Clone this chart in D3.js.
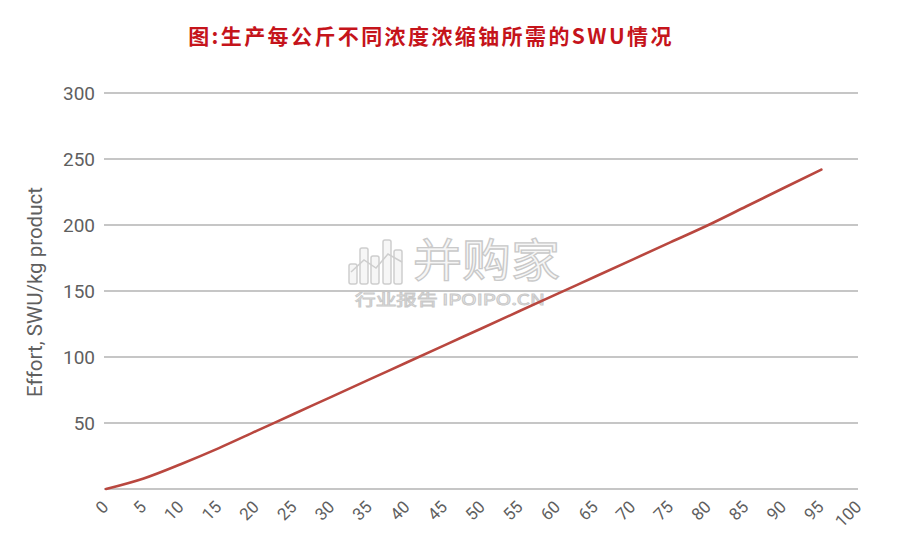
<!DOCTYPE html>
<html><head><meta charset="utf-8">
<script src="https://cdn.jsdelivr.net/npm/d3@7"></script>
<style>
html,body{margin:0;padding:0;background:#fff;}
svg{display:block;}
</style></head>
<body>
<svg id="chart" width="907" height="543"></svg>
<script>
// ---- data ----
const title = "图:生产每公斤不同浓度浓缩铀所需的SWU情况";
const yTitle = "Effort, SWU/kg product";
const enrichment = [0,5,10,15,20,25,30,35,40,45,50,55,60,65,70,75,80,85,90,95];
const swu = [0,8,19,31,44,57,70,83,96,109,122,135,148,161,174,187,200,214,228,242];
const xTicks = [0,5,10,15,20,25,30,35,40,45,50,55,60,65,70,75,80,85,90,95,100];
const yTicks = [50,100,150,200,250,300];

const svg = d3.select("#chart");
const plot = {left:104, right:858, top:93, bottom:489};

const x = d3.scaleLinear().domain([0,100]).range([106, 859]);
const y = d3.scaleLinear().domain([0,300]).range([plot.bottom, plot.top]);

// title
svg.append("text")
  .attr("x", 431).attr("y", 44)
  .attr("text-anchor","middle")
  .attr("font-family","'Noto Sans CJK SC', sans-serif")
  .attr("font-weight","bold")
  .attr("font-size",21)
  .attr("letter-spacing","2.4px")
  .attr("fill","#c5141b")
  .text(title);

// gridlines (including baseline 0)
const grid = svg.append("g");
grid.selectAll("line").data([0].concat(yTicks)).join("line")
  .attr("x1", plot.left).attr("x2", plot.right)
  .attr("y1", d=>y(d)).attr("y2", d=>y(d))
  .attr("stroke","#c6c6c6").attr("stroke-width",2);

// y axis labels
const yAxis = d3.axisLeft(y).tickValues(yTicks).tickSize(0).tickPadding(0);
const gy = svg.append("g").attr("transform","translate(95,0)").call(yAxis);
gy.select(".domain").remove();
gy.selectAll("text")
  .attr("font-family","Roboto, sans-serif").attr("font-size",19)
  .attr("fill","#5f5f5f").attr("dy","0.36em");

// x axis labels
const xAxis = d3.axisBottom(x).tickValues(xTicks).tickSize(0).tickPadding(0);
const gx = svg.append("g").attr("transform","translate(3,508)").call(xAxis);
gx.select(".domain").remove();
gx.selectAll("text")
  .attr("font-family","Roboto, sans-serif").attr("font-size",17)
  .attr("fill","#5f5f5f")
  .attr("text-anchor","end")
  .attr("dy","0")
  .attr("y",0)
  .attr("transform","rotate(-45)");

// y axis title
svg.append("text")
  .attr("transform","translate(42,292) rotate(-90)")
  .attr("text-anchor","middle")
  .attr("font-family","Roboto, sans-serif").attr("font-size",20.5)
  .attr("fill","#5f5f5f")
  .text(yTitle);

// watermark
const wm = svg.append("g").attr("opacity",0.9);
const icon = wm.append("g").attr("fill","#f6f6f6").attr("stroke","#c9c9c9").attr("stroke-width",1.5);
[[349,264,8,20],[360,248,8,36],[371,256,8,28],[383,240,8,44],[394,250,8,34]].forEach(r=>{
  icon.append("rect").attr("x",r[0]).attr("y",r[1]).attr("width",r[2]).attr("height",r[3]).attr("rx",2);
});
wm.append("polyline").attr("points","351,272 364,260 376,268 388,254 402,262")
  .attr("fill","none").attr("stroke","#c9c9c9").attr("stroke-width",1.5);
wm.append("text").attr("x",413).attr("y",277)
  .attr("font-family","'Noto Sans CJK SC', sans-serif").attr("font-size",45)
  .attr("fill","#f6f6f6").attr("stroke","#c4c4c4").attr("stroke-width",1.3)
  .attr("textLength",147).attr("lengthAdjust","spacingAndGlyphs")
  .text("并购家");
wm.append("text").attr("x",355).attr("y",305)
  .attr("font-family","'Noto Sans CJK SC', sans-serif").attr("font-size",15)
  .attr("fill","#f6f6f6").attr("stroke","#c4c4c4").attr("stroke-width",0.9)
  .attr("textLength",190).attr("lengthAdjust","spacingAndGlyphs")
  .text("行业报告 IPOIPO.CN");

// data line
const line = d3.line().x((d,i)=>x(enrichment[i])).y(d=>y(d)).curve(d3.curveMonotoneX);
svg.append("path").datum(swu)
  .attr("d", line)
  .attr("fill","none")
  .attr("stroke","#b9473f")
  .attr("stroke-width",2.6)
  .attr("stroke-linecap","round");
</script>
</body></html>
